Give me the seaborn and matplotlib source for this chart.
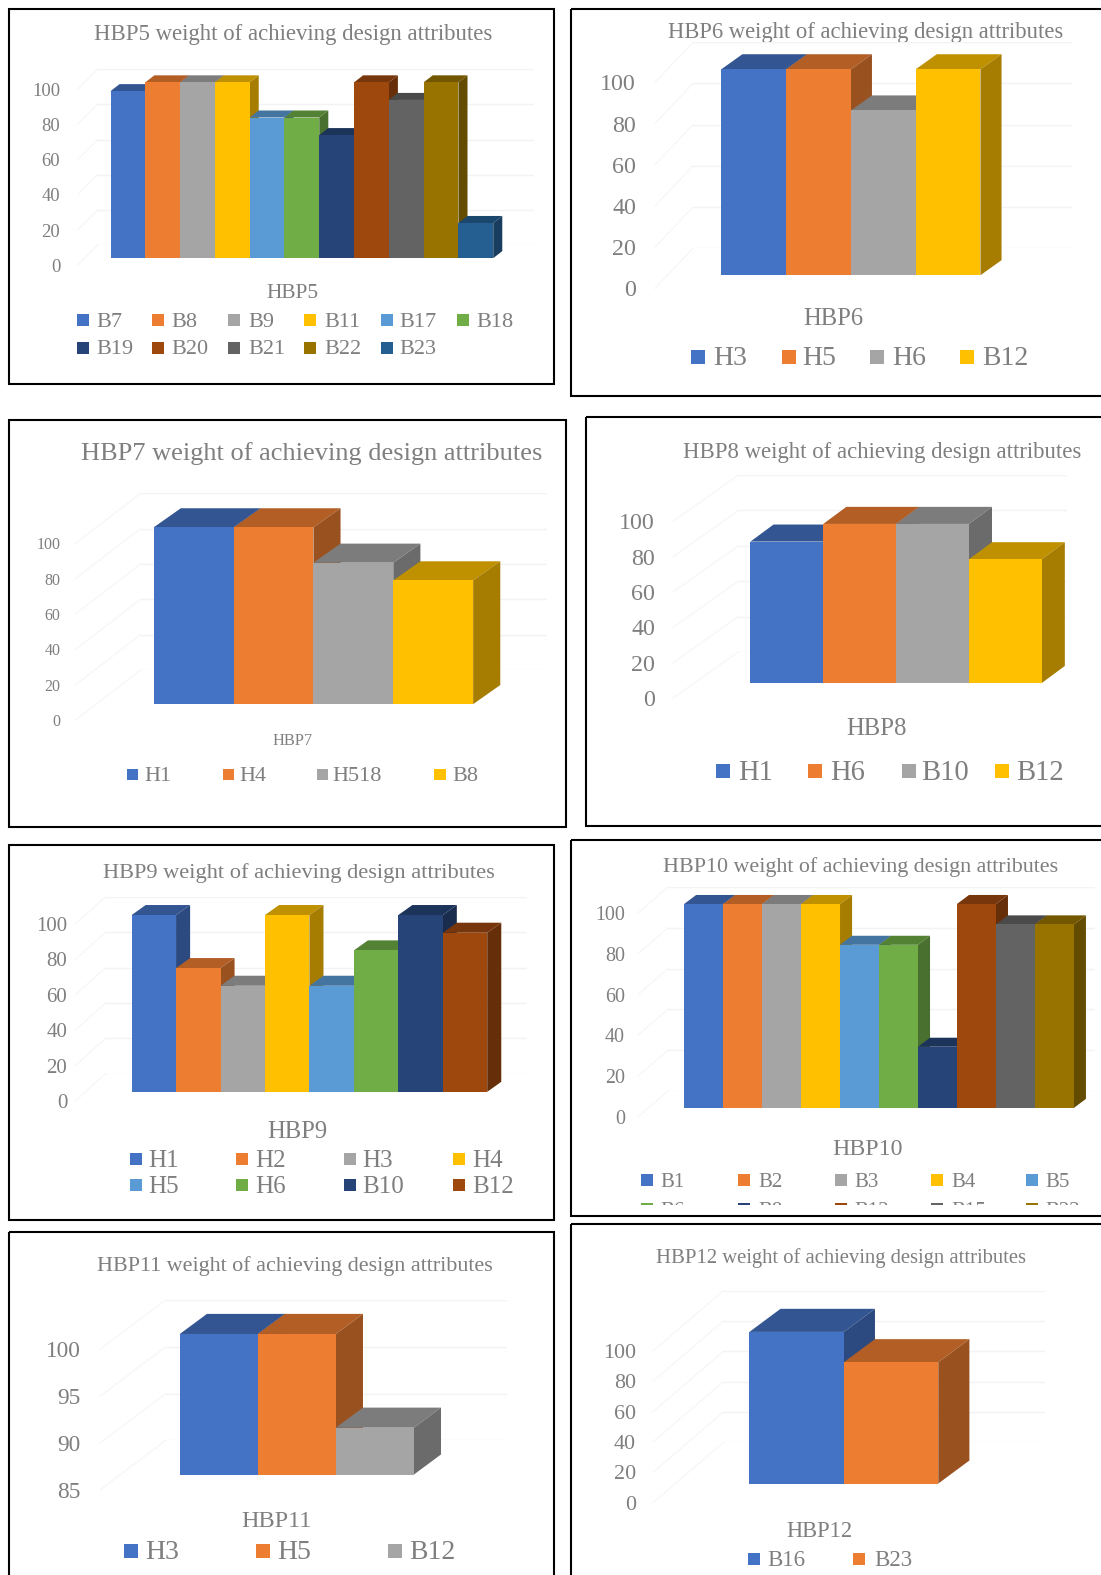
import matplotlib
matplotlib.use("Agg")
import matplotlib.pyplot as plt
from matplotlib.patches import Polygon, Rectangle, ConnectionPatch
from matplotlib.colors import to_rgb
import seaborn as sns

# Attribute weights per house-building practice
hbp5_labels = ["B7", "B8", "B9", "B11", "B17", "B18", "B19", "B20", "B21", "B22", "B23"]
hbp5_values = [95, 100, 100, 100, 80, 80, 70, 100, 90, 100, 20]
hbp6_labels = ["H3", "H5", "H6", "B12"]
hbp6_values = [100, 100, 80, 100]
hbp7_labels = ["H1", "H4", "H518", "B8"]
hbp7_values = [100, 100, 80, 70]
hbp8_labels = ["H1", "H6", "B10", "B12"]
hbp8_values = [80, 90, 90, 70]
hbp9_labels = ["H1", "H2", "H3", "H4", "H5", "H6", "B10", "B12"]
hbp9_values = [100, 70, 60, 100, 60, 80, 100, 90]
hbp10_labels = ["B1", "B2", "B3", "B4", "B5", "B6", "B8", "B12", "B15", "B22"]
hbp10_values = [100, 100, 100, 100, 80, 80, 30, 100, 90, 90]
hbp11_labels = ["H3", "H5", "B12"]
hbp11_values = [100, 100, 90]
hbp12_labels = ["B16", "B23"]
hbp12_values = [100, 80]

ticks_percent = [0, 20, 40, 60, 80, 100]
ticks_narrow = [85, 90, 95, 100]

office = ["#4472C4", "#ED7D31", "#A5A5A5", "#FFC000", "#5B9BD5", "#70AD47",
          "#264478", "#9E480E", "#636363", "#997300", "#255E91"]

CANVAS_W, CANVAS_H = 1096, 1568
TEXT = "#7f7f7f"
SERIF = "Liberation Serif"
TEXT_NUDGE = 2

sns.set_theme(style="white")
plt.rcParams["font.family"] = [SERIF, "DejaVu Serif"]

fig = plt.figure(figsize=(11.01, 15.75), dpi=100, facecolor="white")
sheet = fig.add_axes([0, 0, 1, 1], zorder=0)
sheet.set_xlim(0, CANVAS_W)
sheet.set_ylim(CANVAS_H, 0)
sheet.set_axis_off()


def axes_at(left, top, right, bottom, z):
    return fig.add_axes([left / CANVAS_W, 1 - bottom / CANVAS_H,
                         (right - left) / CANVAS_W, (bottom - top) / CANVAS_H], zorder=z)


def fitted_text(x, y, s, width, color=TEXT):
    """Centred text whose font size is chosen so the run is `width` canvas pixels long."""
    t = sheet.text(x, y + TEXT_NUDGE, s, ha="center", va="center", color=color, fontsize=20)
    extent = t.get_window_extent(fig.canvas.get_renderer())
    t.set_fontsize(20 * width * (1101 / 1096) / extent.width)
    return t


def shade(color, factor):
    return tuple(c * factor for c in to_rgb(color))


def draw_panel(labels, values, frame, title, axis_title, bars, walls, ticks, tick_pt, legend):
    x0, y0, x1, y1 = frame
    sheet.add_patch(Rectangle((x0, y0), x1 - x0, y1 - y0, fill=False, ec="black", lw=1.5))

    fitted_text(*title)
    fitted_text(*axis_title)

    left, right, base, ppu, dx, dy = bars
    front_left, back_left, wall_right, tick_drop, label_gap = walls
    low, high = ticks[0], ticks[-1]
    span = (high - low) * ppu

    # Back wall: horizontal gridlines only
    back_base = base - dy - tick_drop
    back = axes_at(back_left, back_base - span, wall_right, back_base, 1)
    back.set_ylim(low, high)
    back.set_yticks(ticks)
    back.set_xticks([])
    back.tick_params(left=False, labelleft=False)
    back.yaxis.grid(True, color="#f3f3f3", lw=1)
    sns.despine(ax=back, left=True, bottom=True)
    back.patch.set_alpha(0)

    # Side wall: carries the value labels
    front_base = base + tick_drop + 1
    side = axes_at(front_left, front_base - span, front_left + 5, front_base, 1)
    side.set_ylim(low, high)
    side.set_yticks(ticks)
    side.set_yticklabels([str(t) for t in ticks], fontsize=tick_pt, color=TEXT)
    side.set_xticks([])
    side.tick_params(axis="y", length=0, pad=label_gap * 0.72)
    sns.despine(ax=side, left=True, bottom=True)
    side.patch.set_alpha(0)
    for t in ticks:
        fig.add_artist(ConnectionPatch(xyA=(0, t), coordsA=side.get_yaxis_transform(),
                                       xyB=(0, t), coordsB=back.get_yaxis_transform(),
                                       color="#f7f7f7", lw=1, zorder=0.5))

    # Front plane: the bars, with depth faces derived from each bar's own geometry
    ax = axes_at(left, base - span, right, base, 3)
    palette = office[:len(labels)]
    sns.barplot(x=labels, y=values, hue=labels, palette=palette, order=labels,
                hue_order=labels, width=1, saturation=1, legend=False, ax=ax, linewidth=0)
    ax.set_xlim(-0.5, len(labels) - 0.5)
    ax.set_ylim(low, high)
    ax.set_axis_off()
    bar_px = (right - left) / len(labels)
    run = dx / bar_px
    rise = dy / ppu
    rects = sorted([p for p in ax.patches if p.get_height() > 0], key=lambda p: p.get_x())
    for i, (rect, color) in enumerate(zip(rects, palette)):
        l = rect.get_x()
        r = l + rect.get_width()
        v = rect.get_height()
        level = 2 + i * 3
        rect.set_zorder(level + 2)
        ax.add_patch(Polygon([(l, v), (r, v), (r + run, v + rise), (l + run, v + rise)],
                             fc=shade(color, 0.75), ec="none", clip_on=False, zorder=level))
        ax.add_patch(Polygon([(r, low), (r + run, low + rise), (r + run, v + rise), (r, v)],
                             fc=shade(color, 0.65), ec="none", clip_on=False, zorder=level + 1))

    # Legend swatches and names
    marker_xs, text_xs, rows, square, font_pt, clip_y = legend
    per_row = len(marker_xs)
    for i, (name, color) in enumerate(zip(labels, palette)):
        row = rows[i // per_row]
        mx, tx = marker_xs[i % per_row], text_xs[i % per_row]
        swatch = Rectangle((mx - square / 2, row - square / 2), square, square, fc=color, ec="none")
        sheet.add_patch(swatch)
        label = sheet.text(tx, row + TEXT_NUDGE, name, ha="left", va="center",
                           fontsize=font_pt, color=TEXT)
        if clip_y is not None:
            window = Rectangle((x0, y0), x1 - x0, clip_y - y0, transform=sheet.transData)
            swatch.set_clip_path(window)
            label.set_clip_path(window)
            label.set_clip_on(True)


draw_panel(hbp5_labels, hbp5_values, (9, 9, 551, 382),
           (292, 32, "HBP5 weight of achieving design attributes", 395), (291, 290, "HBP5", 52),
           (110, 491, 257, 1.75, 9, 7), (77, 97, 532, 6, 17), ticks_percent, 13.4,
           ([83, 157, 233, 309, 385, 461], [96, 171, 247, 323, 398, 474], [319, 346], 12, 16, None))
draw_panel(hbp6_labels, hbp6_values, (568, 9, 1110, 394),
           (862, 30, "HBP6 weight of achieving design attributes", 393), (830, 316, "HBP6", 60),
           (718, 976, 274, 2.05, 21, 15), (652, 690, 1067, 12, 19), ticks_percent, 17.3,
           ([695, 785, 873, 963], [710, 799, 888, 978], [355], 14, 20, None))
draw_panel(hbp7_labels, hbp7_values, (9, 418, 563, 823),
           (310, 449, "HBP7 weight of achieving design attributes", 459), (291, 736, "HBP7", 40),
           (153, 471, 701, 1.76, 27, 19), (75, 140, 545, 15, 15), ticks_percent, 11.5,
           ([132, 227, 321, 438], [144, 238, 331, 450], [771], 11, 16, None))
draw_panel(hbp8_labels, hbp8_values, (583, 415, 1110, 822),
           (878, 448, "HBP8 weight of achieving design attributes", 397), (873, 724, "HBP8", 60),
           (747, 1037, 680, 1.76, 23, 17), (670, 735, 1062, 14, 18), ticks_percent, 17.3,
           ([720, 811, 905, 997], [735, 826, 917, 1012], [768], 14, 20.6, None))
draw_panel(hbp9_labels, hbp9_values, (9, 841, 551, 1215),
           (298, 867, "HBP9 weight of achieving design attributes", 390), (296, 1125, "HBP9", 60),
           (131, 485, 1087, 1.76, 14, 10), (75, 105, 525, 8, 8), ticks_percent, 15,
           ([135, 241, 348, 457], [148, 254, 361, 470], [1154, 1180], 12, 18, None))
draw_panel(hbp10_labels, hbp10_values, (568, 836, 1110, 1211),
           (857, 861, "HBP10 weight of achieving design attributes", 393), (864, 1142, "HBP10", 70),
           (681, 1069, 1103, 2.03, 12, 9), (635, 665, 1090, 8, 13), ticks_percent, 14.4,
           ([644, 741, 837, 933, 1027], [657, 755, 850, 947, 1041], [1175, 1204], 12, 15, 1200))
draw_panel(hbp11_labels, hbp11_values, (9, 1227, 551, 1590),
           (294, 1258, "HBP11 weight of achieving design attributes", 395), (275, 1513, "HBP11", 70),
           (179, 412, 1468, 9.33, 27, 20), (100, 165, 505, 14, 20), ticks_narrow, 16.8,
           ([130, 262, 393], [145, 276, 407], [1544], 14, 20, None))
draw_panel(hbp12_labels, hbp12_values, (568, 1219, 1110, 1590),
           (837, 1250, "HBP12 weight of achieving design attributes", 370), (816, 1523, "HBP12", 66),
           (746, 934, 1477, 1.51, 31, 23), (650, 720, 1040, 18, 17), ticks_percent, 15.8,
           ([751, 855], [764, 870], [1552], 12, 16.5, None))

fig.savefig("out.png", dpi=100, facecolor="white")
